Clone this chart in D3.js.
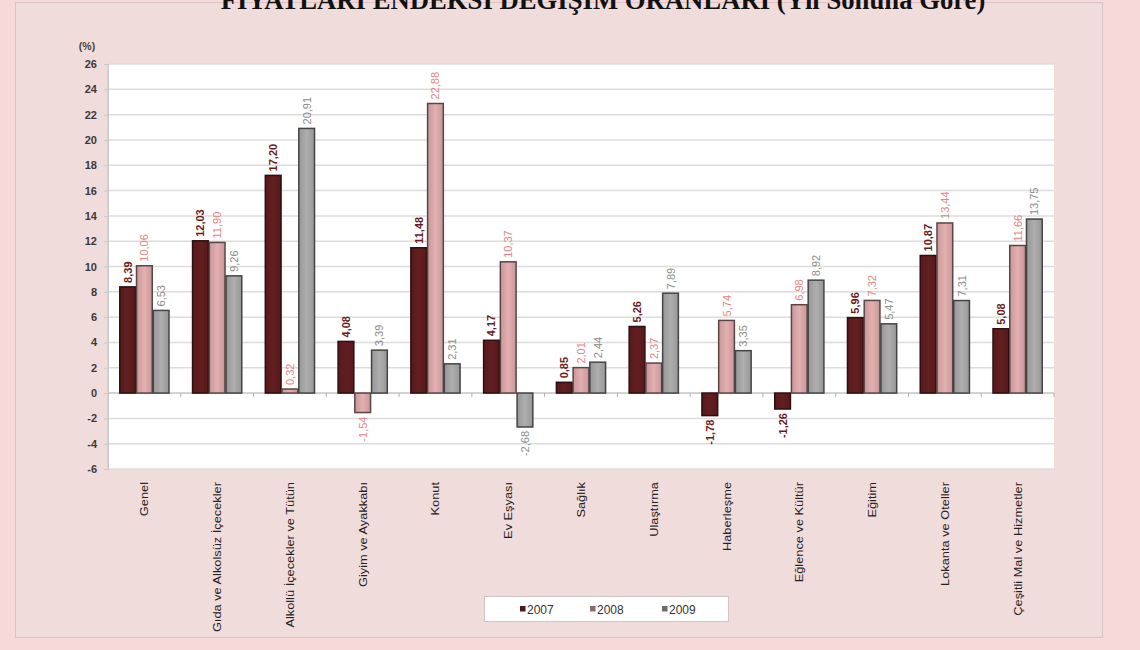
<!DOCTYPE html>
<html><head><meta charset="utf-8">
<script src="https://cdn.jsdelivr.net/npm/d3@7"></script>
<style>
html,body{margin:0;padding:0;background:#f7d9da;}
svg{display:block;}
</style></head>
<body>
<svg id="c" width="1140" height="650"></svg>
<script>
const categories = ["Genel","Gıda ve Alkolsüz İçecekler","Alkollü İçecekler ve Tütün","Giyim ve Ayakkabı","Konut","Ev Eşyası","Sağlık","Ulaştırma","Haberleşme","Eğlence ve Kültür","Eğitim","Lokanta ve Oteller","Çeşitli Mal ve Hizmetler"];
const seriesNames = ["2007","2008","2009"];
const values2007 = [8.39,12.03,17.20,4.08,11.48,4.17,0.85,5.26,-1.78,-1.26,5.96,10.87,5.08];
const values2008 = [10.06,11.90,0.32,-1.54,22.88,10.37,2.01,2.37,5.74,6.98,7.32,13.44,11.66];
const values2009 = [6.53,9.26,20.91,3.39,2.31,-2.68,2.44,7.89,3.35,8.92,5.47,7.31,13.75];
const yTicks = [26,24,22,20,18,16,14,12,10,8,6,4,2,0,-2,-4,-6];
const titleText = "FİYATLARI ENDEKSİ DEĞİŞİM ORANLARI (Yıl Sonuna Göre)";

const series = [values2007, values2008, values2009];
const fills = ["#5e1c1e","#d9a6a7","#a5a5a5"];
const strokes = ["#2e0e0e","#5a4545","#444444"];
const labelColors = ["#6a1a1c","#e58585","#8c8c8c"];
const FONT = "Liberation Sans, Arial, sans-serif";

const svg = d3.select("#c");
// panel
svg.append("rect").attr("x",15.5).attr("y",2.5).attr("width",1087).attr("height",635)
  .attr("fill","#f1dcdc").attr("stroke","#d8c4c4");
// title (clipped by top)
svg.append("text").attr("x",603).attr("y",9).attr("text-anchor","middle")
  .attr("font-family","Liberation Serif, Times New Roman, serif").attr("font-weight","bold")
  .attr("font-size",26.7).attr("fill","#111").text(titleText);

const x0 = 108, x1 = 1054, yTop = 64, yBot = 469;
const y = d3.scaleLinear().domain([-6,26]).range([yBot,yTop]);
const xb = d3.scaleBand().domain(categories).range([x0,x1]).paddingInner(0.31).paddingOuter(0.155);
const xs = d3.scaleBand().domain(seriesNames).range([0,xb.bandwidth()]);

// plot bg
svg.append("rect").attr("x",x0).attr("y",yTop).attr("width",x1-x0).attr("height",yBot-yTop)
  .attr("fill","#ffffff");
// grid
svg.append("g").selectAll("line").data(yTicks).join("line")
  .attr("x1",x0).attr("x2",x1).attr("y1",d=>y(d)).attr("y2",d=>y(d))
  .attr("stroke","#dcdcdc").attr("stroke-width",1.5);
svg.append("line").attr("x1",x0).attr("x2",x0).attr("y1",yTop).attr("y2",yBot).attr("stroke","#c8c8c8");

// y axis
const yAxis = d3.axisLeft(y).tickValues(yTicks).tickSize(4).tickFormat(d=>String(d));
const ga = svg.append("g").attr("transform",`translate(${x0},0)`).call(yAxis);
ga.select(".domain").attr("stroke","#c8c8c8");
ga.selectAll(".tick line").attr("stroke","#c8c8c8");
ga.selectAll("text").attr("font-family",FONT).attr("font-size",11)
  .attr("font-weight","bold").attr("fill","#3a3a3a").attr("x",-11);
svg.append("text").attr("x",87).attr("y",50).attr("text-anchor","middle")
  .attr("font-family",FONT).attr("font-size",10.5).attr("font-weight","bold")
  .attr("fill","#444").text("(%)");

// zero axis line + category ticks
svg.append("line").attr("x1",x0).attr("x2",x1).attr("y1",y(0)).attr("y2",y(0)).attr("stroke","#c0c0c0");
const step = (x1-x0)/categories.length;
svg.append("g").selectAll("line").data(d3.range(1,categories.length+1)).join("line")
  .attr("x1",i=>x0+i*step).attr("x2",i=>x0+i*step).attr("y1",y(0)).attr("y2",y(0)+4)
  .attr("stroke","#b0b0b0");

// bars
const defs = svg.append("defs");
fills.forEach((c,i)=>{
  const g = defs.append("linearGradient").attr("id","g"+i).attr("x1","0").attr("x2","1");
  g.append("stop").attr("offset","0").attr("stop-color",d3.color(c).darker(0.25));
  g.append("stop").attr("offset","0.5").attr("stop-color",d3.color(c).brighter(0.15));
  g.append("stop").attr("offset","1").attr("stop-color",d3.color(c).darker(0.25));
});
const fmt = v => d3.format(".2f")(v).replace(".",",").replace("\u2212","-");
const groups = svg.append("g").selectAll("g").data(categories).join("g")
  .attr("transform",d=>`translate(${xb(d)},0)`);
seriesNames.forEach((s,si)=>{
  groups.append("rect")
    .attr("x",xs(s)+0.5).attr("width",xs.bandwidth()-1)
    .attr("y",(d,i)=>y(Math.max(0,series[si][i])))
    .attr("height",(d,i)=>Math.abs(y(series[si][i])-y(0)))
    .attr("fill",`url(#g${si})`).attr("stroke",strokes[si]).attr("stroke-width",1.5);
  groups.append("text")
    .attr("transform",(d,i)=>{
      const v = series[si][i];
      const cx = xs(s)+xs.bandwidth()/2+4;
      const yy = v>=0 ? y(v)-4 : y(v)+4;
      return `translate(${cx},${yy}) rotate(-90)`;
    })
    .attr("text-anchor",(d,i)=>series[si][i]>=0?"start":"end")
    .attr("font-family",FONT).attr("font-size",11)
    .attr("font-weight",si===0?"bold":"normal")
    .attr("fill",labelColors[si])
    .text((d,i)=>fmt(series[si][i]));
});

// category labels
svg.append("g").selectAll("text").data(categories).join("text")
  .attr("transform",d=>`translate(${xb(d)+xb.bandwidth()/2+4},482) rotate(-90) scale(1.22,1)`)
  .attr("text-anchor","end")
  .attr("font-family",FONT).attr("font-size",10.5)
  .attr("fill","#222").text(d=>d);

// legend
const lg = svg.append("g");
lg.append("rect").attr("x",484.5).attr("y",596.5).attr("width",244).attr("height",25)
  .attr("fill","#ffffff").attr("stroke","#d0c4c4");
const lxs = d3.scaleOrdinal().domain(seriesNames).range([527,597,669]);
seriesNames.forEach((s,si)=>{
  lg.append("rect").attr("x",lxs(s)-7).attr("y",606).attr("width",5.5).attr("height",5.5)
    .attr("fill",d3.color(fills[si]).darker(si===0?0.5:1.2));
  lg.append("text").attr("x",lxs(s)).attr("y",613.5)
    .attr("font-family",FONT).attr("font-size",12)
    .attr("fill","#333").text(s);
});
</script>
</body></html>
